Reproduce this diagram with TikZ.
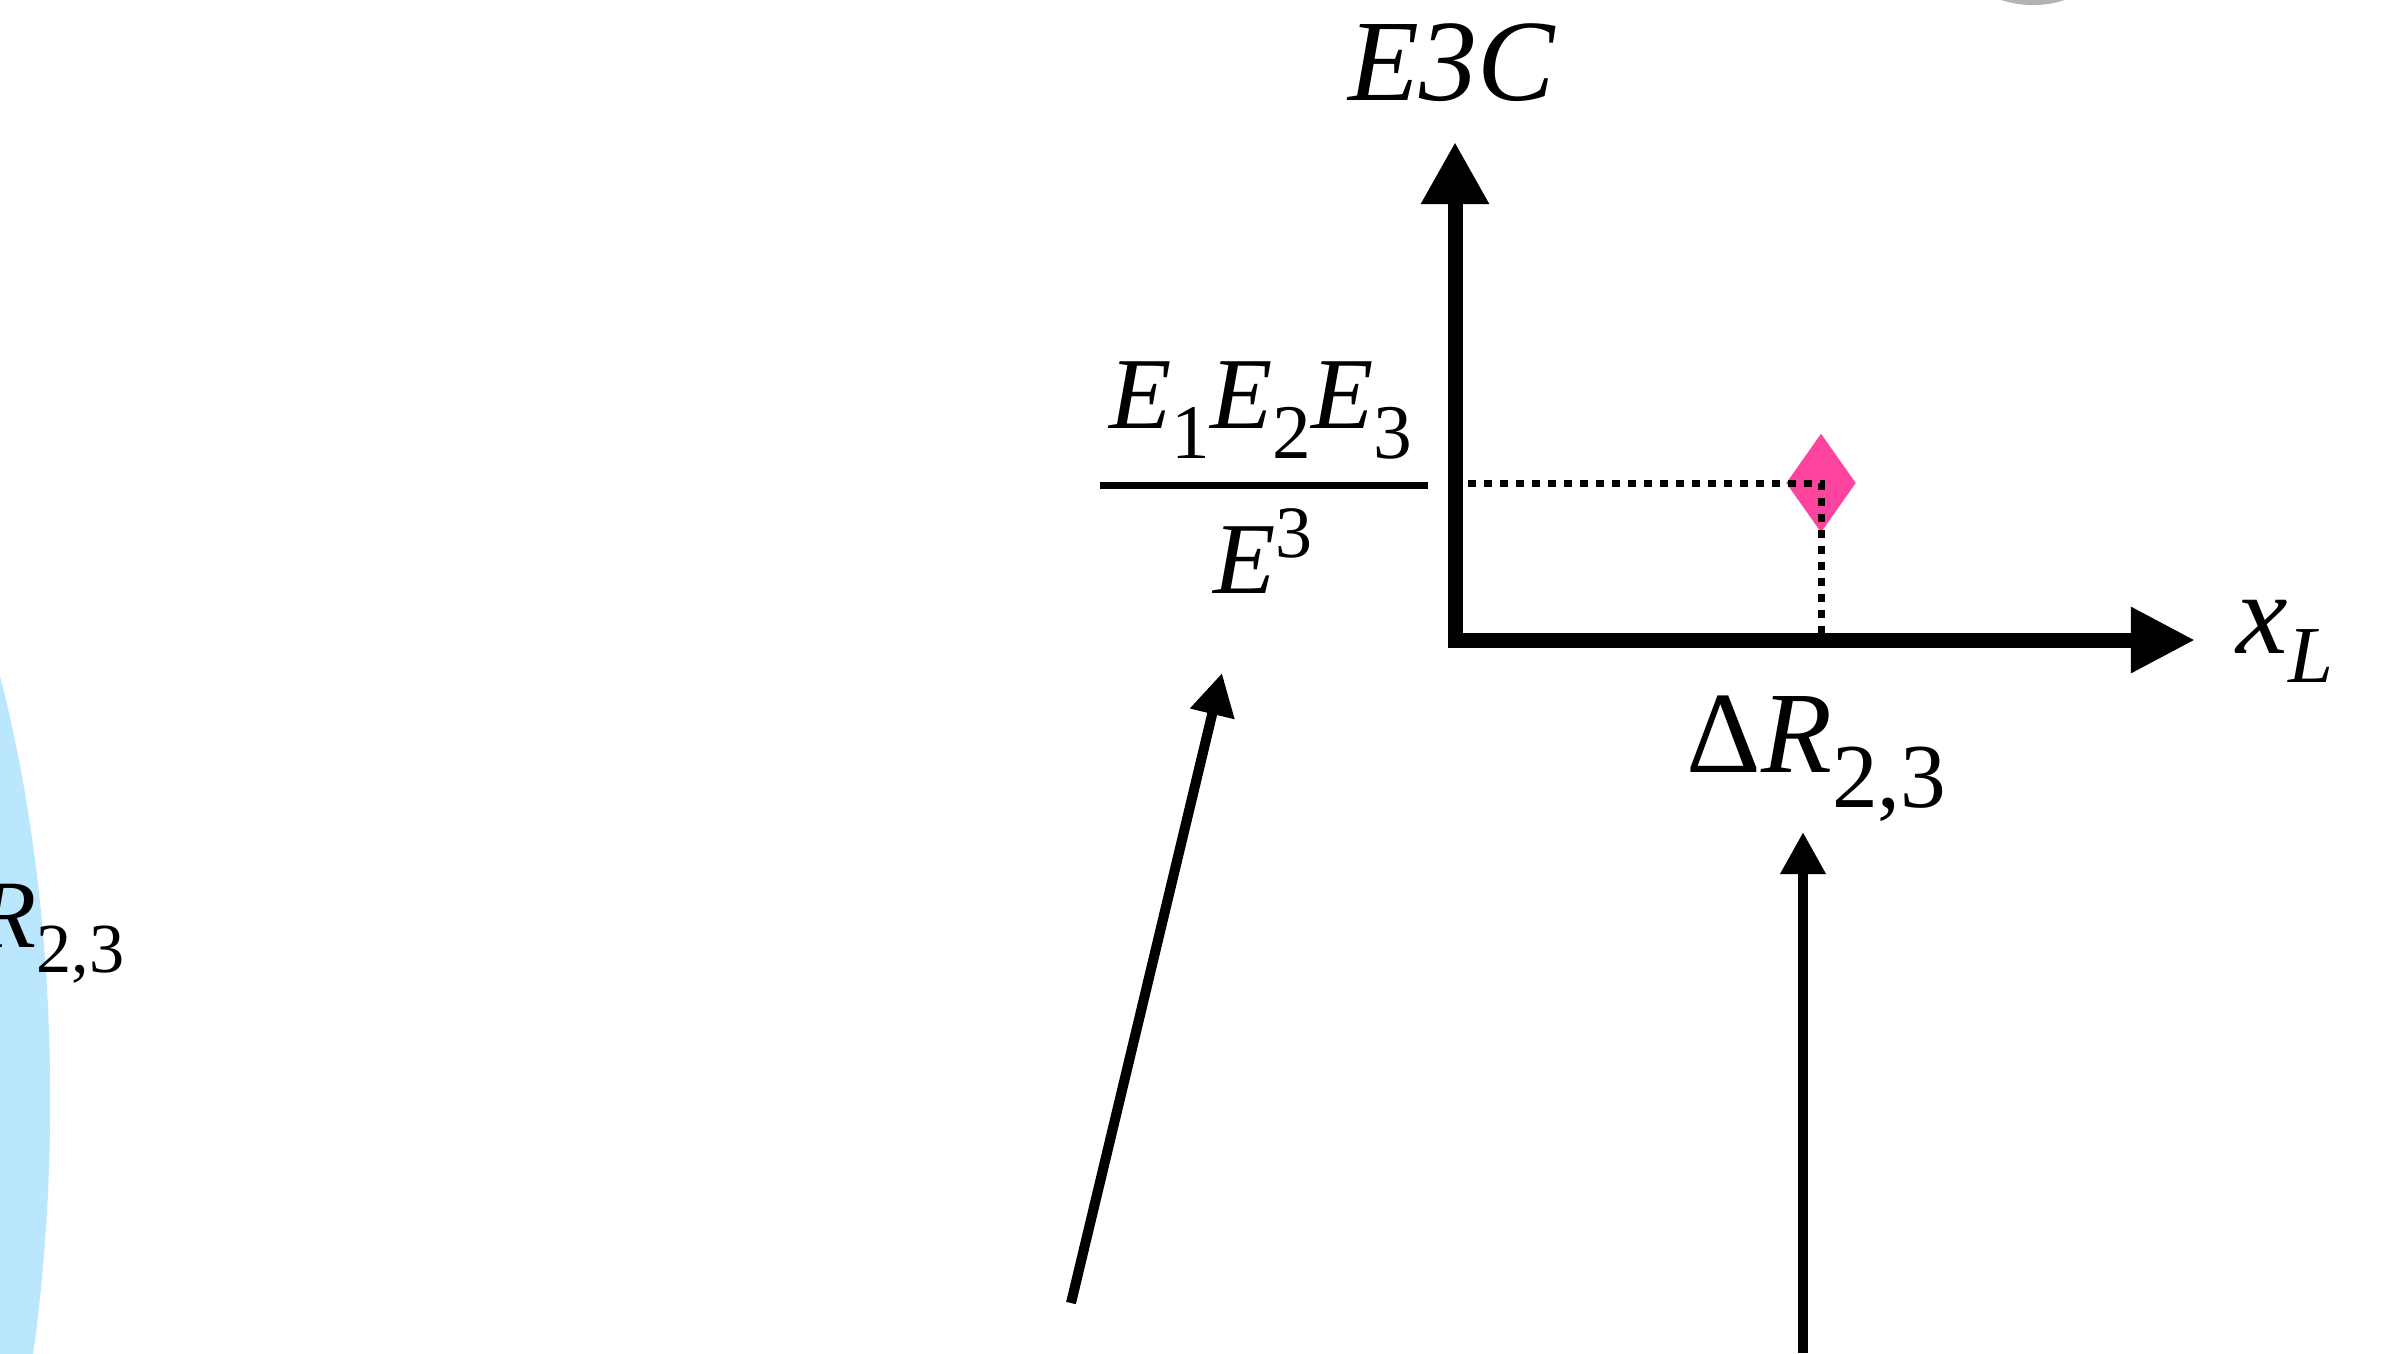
\documentclass[tikz,border=0pt]{standalone}
\usepackage{fontspec}
\setmainfont{Liberation Serif}
\usepackage{xcolor}
\usepackage{tikz}
\usetikzlibrary{arrows.meta,positioning,shapes.geometric}
\definecolor{skyfill}{RGB}{186,230,254}
\definecolor{pinkpt}{RGB}{255,68,160}
\definecolor{greyblob}{RGB}{178,178,178}
\newcommand{\lo}[3][20]{\raisebox{-#2}{\fontsize{#1}{#1}\selectfont #3}}
\newcommand{\hi}[3][18]{\raisebox{#2}{\fontsize{#1}{#1}\selectfont #3}}

\begin{document}
\begin{tikzpicture}[x=0.01cm,y=-0.01cm,
  axis/.style={line width=0.15cm},
  guide/.style={line width=0.07cm,dash pattern=on 0.08cm off 0.08cm},
  pointer/.style={line width=0.1cm,-{Triangle[length=0.42cm,width=0.43cm]}},
  lbl/.style={inner sep=0pt,font=\fontsize{33}{33}\selectfont\itshape},
  frac/.style={inner sep=0pt,font=\fontsize{29}{29}\selectfont\itshape}]
\useasboundingbox (0,0) rectangle (2382,1353);
\fill[skyfill] (-281,1100) ellipse [x radius=3.31cm,y radius=8cm];
\fill[greyblob] (2033,-97) circle [radius=1.02cm];

\coordinate (o) at (1455,640);
\coordinate (ytip) at (1455,142);
\coordinate (xtip) at (2195,640);
\draw[axis,{Triangle[length=0.62cm,width=0.64cm]}-{Triangle[length=0.64cm,width=0.62cm]}] (ytip) -- (o) -- (xtip);
\node[lbl,anchor=base] (ylab) at (1452,100) {E3C};
\node[lbl,anchor=base west] (xlab) at (2236,653) {x\lo[23]{0.29cm}{L}};

\node[diamond,fill=pinkpt,minimum width=0.7cm,minimum height=0.99cm,inner sep=0pt] (pt) at (1821,483) {};
\coordinate (hstart) at (1468,483);
\coordinate (foot) at (pt |- o);
\draw[guide] (hstart) -- (pt.center) -- (foot);

\coordinate (barL) at (1100,485);
\coordinate (barR) at (1428,485);
\draw[line width=0.07cm] (barL) -- (barR);
\node[frac,anchor=base] (num) at (1261,428) {E\lo[22]{0.3cm}{\upshape 1}E\lo[22]{0.3cm}{\upshape 2}E\lo[22]{0.3cm}{\upshape 3}};
\node[frac,anchor=base] (den) at (1263,593) {E\hi[21]{0.36cm}{\upshape 3}};

\node[lbl,anchor=base west] (dlab) at (1686,772) {{\upshape Δ}R\lo[26]{0.35cm}{\upshape 2,3}};
\node[lbl,font=\fontsize{27.5}{27.5}\selectfont\itshape,anchor=base east] (llab) at (125,947) {{\upshape Δ}R\lo[20]{0.25cm}{\upshape 2,3}};

\coordinate (s1) at (1071,1303);
\coordinate (s1tip) at (1222,673);
\draw[pointer] (s1) -- (s1tip);
\coordinate (s2) at (1803,1353);
\coordinate (s2tip) at (1803,832);
\draw[pointer] (s2) -- (s2tip);
\end{tikzpicture}
\end{document}
